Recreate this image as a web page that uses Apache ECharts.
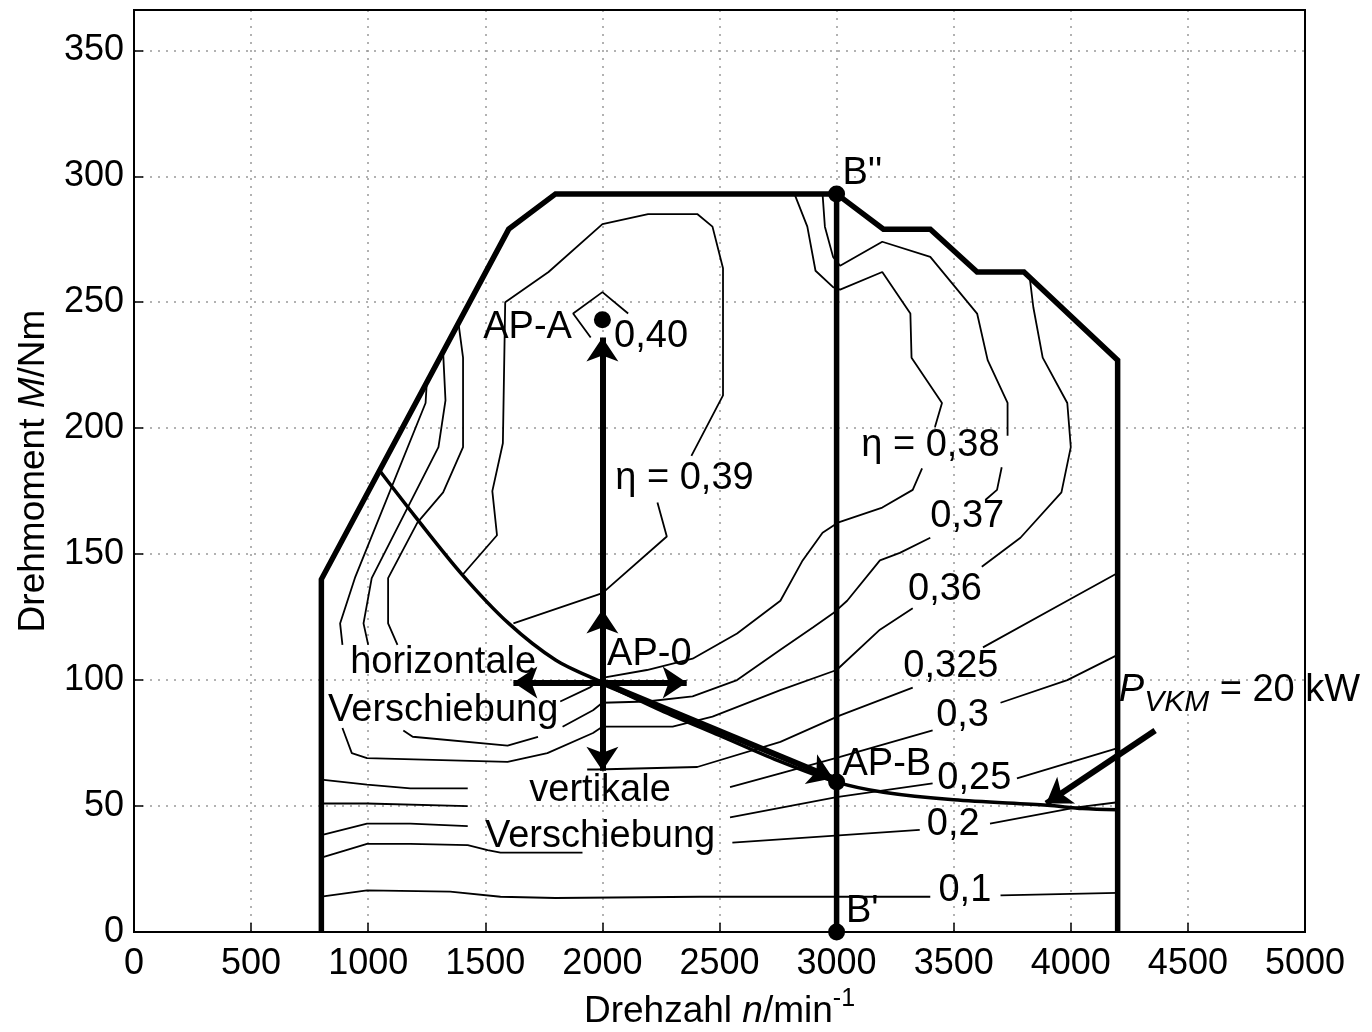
<!DOCTYPE html>
<html lang="de">
<head>
    <meta charset="UTF-8">
    <title>Kennfeld</title>
    <script src="https://cdn.jsdelivr.net/npm/echarts@6/dist/echarts.min.js"></script>
</head>
<style>
    * {
        margin: 0px;
        padding: 0px;
    }
    html , body {
        width: 100%;
        height: 100%;
        overflow: hidden;
        background: #fff;
    }
    .container{
        width: 1372px;
        height: 1032px;
    }
</style>
<body>
    <div class="container"></div>
</body>
<script>
    // Volllastlinie und Messlinie B'-B''
    let fullLoad=[[800,0],[800,140],[1600,279],[1800,293],[3000,293],[3200,279],[3400,279],[3600,262],[3800,262],[4200,227],[4200,0]];
    let lineB=[[3000,0],[3000,293]];
    // P_VKM = 20 kW
    let pvkm=[[1050,183],[1200,165],[1400,142],[1600,122.5],[1800,108],[2000,99],[2250,88],[2500,78],[2750,68],[3000,59.5],[3200,55.5],[3500,52.5],[3900,50.3],[4050,49],[4200,48.5]];

    // Wirkungsgrad-Linien, null = Lücke (Beschriftung)
    let eta40=[[2110,245.5],[2000,254],[1875,245.5],[1950,236]];
    let eta39=[[1405,142],[1550,157.5],[1530,175],[1575,194],[1585,250],[1770,262],[2000,281],[2195,285],[2405,285],[2470,280],[2515,263.5],[2515,213],[2380,189],null,
        [2235,170.5],[2275,157],[2000,134.5],[1620,122.5]];
    let eta38=[[1385,242],[1405,228],[1405,192.5],[1320,174.5],[1210,162.5],[1085,140.5],[1085,122.5],[1125,114],null,
        [1820,91.5],[1945,97],[2005,101],[2190,104],[2385,108.5],[2575,118.5],[2760,131.5],[2855,147.5],[2940,158.5],[3005,162.5],[3195,168.5],[3325,175.5],[3365,184],null,
        [3420,200.5],[3450,210],[3320,228],[3315,245.5],[3195,262],[3015,255],[2985,256],[2910,262.5],[2875,280],[2820,293]];
    let eta37=[[1320,230],[1330,211],[1300,192.5],[1015,140.5],[980,122.5],[1000,114],null,
        [1150,80],[1190,77.5],[1595,74],[1725,77.5],null,
        [1830,81.5],[1960,88],[2000,91],[2190,91.5],[2385,93.5],[2575,100],[2760,112],[2900,121],[2985,126.5],[3045,131.5],[3185,147.5],[3270,150.5],[3400,156.5],null,
        [3635,171.5],[3685,175.5],[3705,184.5],null,
        [3730,197],[3730,210],[3645,227],[3600,245.5],[3400,268],[3195,274],[3015,264.5],[2985,268],[2950,280],[2940,293]];
    let eta36=[[1250,218],[1245,210],[945,141],[880,122.5],[890,114],null,
        [890,81],[930,71],[995,69],[1595,67.5],[1765,71],[1960,79],[2000,81.5],[2300,81.5],[2470,85.5],[2760,96],[3000,104],[3185,120],[3325,128.5],null,
        [3620,145],[3785,156.5],[3960,174.5],[4000,192.5],[3985,210],[3880,228],[3840,248],[3825,259.5]];
    let eta325=[[4200,142.5],[3985,131.5],[3625,113],null,
        [3325,97],[3015,86],[2760,75.5],[2405,65.5],[1975,64.5],[1935,64.5],null,
        [1425,57],[1180,57],[995,58.5],[800,60.5]];
    let eta30=[[4200,110],[3985,100],[3700,91],null,
        [3410,80],[3015,69.5],[2760,63],[2545,57.5],null,
        [1425,50],[995,51],[800,51]];
    let eta25=[[4200,73],[3770,61],null,
        [3410,59],[3000,53.5],[2545,45.5],null,
        [1425,42],[1180,43],[995,43],[800,38.5]];
    let eta20=[[4200,51.5],[4025,49.5],[3655,43],null,
        [3355,40.5],[2555,35.5],null,
        [1915,31.5],[1565,31.5],[1510,32.5],[1425,34.5],[1180,35],[995,35],[800,29.5]];
    let eta10=[[4200,15.5],[3700,14.5],null,
        [3400,14],[2415,14],[1800,13.5],[1565,14],[1350,16],[995,16.5],[800,14]];

    // Betriebspunkte AP-A, B'', B', AP-B
    let dots=[[2000,243],[3000,293],[3000,0],[3000,59.5]];
    // Pfeile: Start n, M -> Ende n, M
    let arrows=[
        [2000,99,2000,236],
        [2000,99,2000,128],
        [2000,99,2000,64],
        [2000,99,1620,99],
        [2000,99,2360,99],
        [2000,99,2985,61],
        [4360,80,3895,51]
    ];
    // Beschriftungen: n, M, Text, Ausrichtung
    let texts=[
        [3025,301,"B''",'left'],
        [3040,8,"B'",'left'],
        [1870,240,'AP-A','right'],
        [2050,236.5,'0,40','left'],
        [2055,180,'η = 0,39','left'],
        [3105,193,'η = 0,38','left'],
        [3400,165,'0,37','left'],
        [3305,136,'0,36','left'],
        [3285,105.5,'0,325','left'],
        [3425,86,'0,3','left'],
        [3430,61,'0,25','left'],
        [3385,42.5,'0,2','left'],
        [3435,16.5,'0,1','left'],
        [2020,110,'AP-0','left'],
        [3025,66.5,'AP-B','left'],
        [1320,107,'horizontale','center'],
        [1320,88,'Verschiebung','center'],
        [1990,56,'vertikale','center'],
        [1990,38,'Verschiebung','center'],
        [4205,96,'{p|P}{sub|VKM}{n| = 20 kW}','left']
    ];

    const font='Liberation Sans, Arial, sans-serif';
    let container=document.querySelector(".container");
    let mycharts=echarts.init(container);
    let series=[];

    // Linien an den Lücken aufteilen
    function pieces(arr){
        let out=[[]];
        arr.forEach(p=>{
            if (p===null){
                out.push([]);
            }else {
                out[out.length-1].push(p);
            }
        })
        return out.filter(s=>s.length>1);
    }

    [eta40,eta39,eta38,eta37,eta36,eta325,eta30,eta25,eta20,eta10].forEach(c=>{
        pieces(c).forEach(s=>{
            series.push({
                type:'line',
                data:s,
                showSymbol:false,
                silent:true,
                z:2,
                lineStyle:{color:'#000',width:1.8}
            })
        })
    })
    series.push({type:'line',data:pvkm,showSymbol:false,smooth:0.3,z:3,lineStyle:{color:'#000',width:3.5}});
    series.push({type:'line',data:fullLoad,showSymbol:false,z:4,lineStyle:{color:'#000',width:5.5,join:'miter'}});
    series.push({type:'line',data:lineB,showSymbol:false,z:4,lineStyle:{color:'#000',width:5.5}});
    series.push({
        type:'lines',
        coordinateSystem:'cartesian2d',
        z:5,
        symbol:['none','arrow'],
        symbolSize:24,
        lineStyle:{color:'#000',width:6,opacity:1,curveness:0},
        data:arrows.map(a=>({coords:[[a[0],a[1]],[a[2],a[3]]]}))
    });
    series.push({
        type:'scatter',
        data:dots,
        symbolSize:17,
        z:6,
        itemStyle:{color:'#000',opacity:1}
    });
    series.push({
        type:'scatter',
        symbolSize:0,
        z:7,
        itemStyle:{opacity:1},
        data:texts.map(t=>({
            value:[t[0],t[1]],
            label:{
                show:true,
                position:'inside',
                formatter:t[2],
                align:t[3],
                verticalAlign:'middle',
                color:'#000',
                opacity:1,
                fontSize:38,
                fontFamily:font,
                rich:{
                    p:{fontSize:38,fontStyle:'italic',fontFamily:font,lineHeight:54,verticalAlign:'middle',color:'#000'},
                    sub:{fontSize:30,fontStyle:'italic',fontFamily:font,lineHeight:54,verticalAlign:'bottom',color:'#000'},
                    n:{fontSize:38,fontFamily:font,lineHeight:54,verticalAlign:'middle',color:'#000'}
                }
            }
        }))
    });

    let option={
        animation:false,
        backgroundColor:'#fff',
        grid:{
            left:134,
            right:67,
            top:10,
            bottom:100,
            show:true,
            z:1,
            backgroundColor:'transparent',
            borderColor:'#000',
            borderWidth:2,
            outerBoundsMode:'none'
        },
        xAxis:{
            type:'value',
            min:0,
            max:5000,
            interval:500,
            name:'{a|Drehzahl }{i|n}{a|/min}{s|-1}',
            nameLocation:'middle',
            nameGap:40,
            nameTextStyle:{
                rich:{
                    a:{fontSize:37,fontFamily:font,color:'#000',lineHeight:50,verticalAlign:'middle'},
                    i:{fontSize:37,fontFamily:font,fontStyle:'italic',color:'#000',lineHeight:50,verticalAlign:'middle'},
                    s:{fontSize:25,fontFamily:font,color:'#000',lineHeight:50,verticalAlign:'top'}
                }
            },
            axisLine:{lineStyle:{color:'#000',width:2}},
            axisTick:{inside:true,length:9,lineStyle:{color:'#000',width:1.5}},
            axisLabel:{fontSize:36,color:'#000',margin:14,fontFamily:font,formatter:v=>String(v)},
            splitLine:{show:true,lineStyle:{color:'#999',width:1.5,type:[2,6]}}
        },
        yAxis:{
            type:'value',
            min:0,
            max:366,
            interval:50,
            name:'{a|Drehmoment }{i|M}{a|/Nm}',
            nameLocation:'middle',
            nameRotate:90,
            nameGap:82,
            nameTextStyle:{
                rich:{
                    a:{fontSize:37,fontFamily:font,color:'#000'},
                    i:{fontSize:37,fontFamily:font,fontStyle:'italic',color:'#000'}
                }
            },
            axisLine:{lineStyle:{color:'#000',width:2}},
            axisTick:{inside:true,length:9,lineStyle:{color:'#000',width:1.5}},
            axisLabel:{fontSize:36,color:'#000',margin:10,fontFamily:font,showMaxLabel:false,formatter:v=>String(v)},
            splitLine:{show:true,lineStyle:{color:'#999',width:1.5,type:[2,6]}}
        },
        series
    }
    mycharts.setOption(option)
</script>
</html>
